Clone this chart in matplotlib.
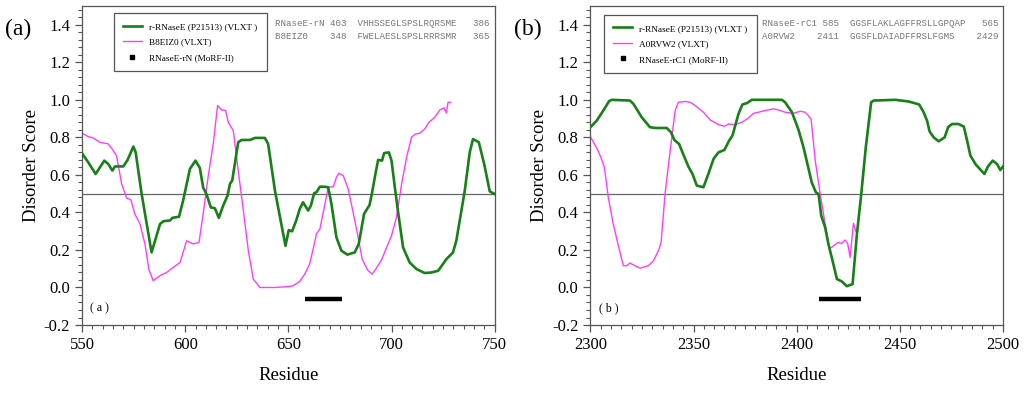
import matplotlib
matplotlib.use("Agg")
import matplotlib.pyplot as plt
from matplotlib.ticker import MultipleLocator

# Panel (a): residues 550-750
a_green_res = [550, 553, 556.6, 560.8, 562.7, 564.7, 566, 570, 572.1, 574.9, 576, 578.9, 583.7,
               587.8, 589.4, 592.6, 593.8, 597, 599, 602.3, 605, 607.1, 608.7, 610.3, 612.4,
               614.4, 616.3, 618.4, 620.5, 621.7, 622.8, 625.7, 627.3, 631.4, 633.8, 638.6,
               640.2, 643.5, 648.6, 650.2, 651.8, 653.9, 655.5, 657.1, 659.6, 660.9, 662.5,
               663.6, 665.3, 667.4, 669.3, 670.9, 673.3, 675.7, 678.6, 682.2, 684.1, 686.7,
               689.4, 690.6, 691.9, 693.5, 695.4, 696.4, 698.7, 700, 701.6, 703.2, 705.6,
               708.8, 712.1, 716.1, 719.3, 722.6, 726.6, 729.8, 731.4, 735.5, 737.9, 739.5,
               742.3, 744.9, 747.6, 750]
a_green_val = [0.715, 0.667, 0.605, 0.676, 0.658, 0.623, 0.645, 0.645, 0.68, 0.751, 0.72, 0.498,
               0.187, 0.338, 0.353, 0.357, 0.371, 0.377, 0.463, 0.632, 0.676, 0.637, 0.533,
               0.498, 0.427, 0.422, 0.371, 0.436, 0.489, 0.552, 0.57, 0.774, 0.786, 0.786,
               0.797, 0.797, 0.765, 0.516, 0.222, 0.306, 0.299, 0.36, 0.418, 0.454, 0.41,
               0.436, 0.502, 0.507, 0.537, 0.537, 0.534, 0.444, 0.267, 0.196, 0.175, 0.187,
               0.232, 0.392, 0.441, 0.507, 0.587, 0.68, 0.676, 0.716, 0.72, 0.676, 0.534,
               0.4, 0.213, 0.133, 0.098, 0.077, 0.08, 0.089, 0.151, 0.187, 0.249, 0.516,
               0.72, 0.791, 0.774, 0.658, 0.512, 0.498]

a_mag_res = [550, 553, 555.5, 558.6, 562.7, 564.3, 566.7, 569.2, 571.6, 573.7, 575.6, 578.1,
             580.5, 582.4, 584.5, 587.8, 591, 594.2, 597.5, 600.7, 603.9, 606.7, 608.7, 611.2,
             613.6, 615.7, 617.6, 619.6, 620.9, 623.3, 625.7, 628.2, 630.6, 633, 636.2, 643.5,
             650, 652.3, 655.5, 657.9, 660.3, 662, 663.6, 665.3, 667.4, 669.3, 671.8, 673.3,
             674.5, 676.6, 679, 681.4, 683.5, 685.8, 688.4, 690.6, 692.7, 695.1, 697.6, 700,
             702.4, 704.9, 707.3, 709.7, 711.6, 713.7, 716.1, 718.1, 721, 723.4, 725.5, 726.6,
             727.4, 728.6]
a_mag_val = [0.822, 0.804, 0.797, 0.774, 0.765, 0.743, 0.703, 0.552, 0.477, 0.467, 0.392, 0.338,
             0.232, 0.097, 0.036, 0.063, 0.08, 0.107, 0.133, 0.249, 0.232, 0.24, 0.392, 0.596,
             0.765, 0.97, 0.946, 0.943, 0.88, 0.836, 0.623, 0.41, 0.196, 0.045, 0.0, 0.0,
             0.005, 0.009, 0.032, 0.071, 0.124, 0.205, 0.285, 0.312, 0.427, 0.534, 0.537,
             0.587, 0.609, 0.596, 0.525, 0.4, 0.285, 0.151, 0.093, 0.071, 0.104, 0.146, 0.213,
             0.276, 0.374, 0.552, 0.694, 0.801, 0.818, 0.822, 0.845, 0.88, 0.907, 0.946,
             0.957, 0.93, 0.987, 0.987]

a_morf = [658, 676]

# Panel (b): residues 2300-2500
b_green_res = [2300, 2303.1, 2306.3, 2309.1, 2310.4, 2319.2, 2320.9, 2324.9, 2328.9, 2331.4,
               2337, 2339.1, 2340.7, 2343, 2345.1, 2347.5, 2349.5, 2351.6, 2354.8, 2357.2,
               2359.7, 2362.1, 2365, 2367.3, 2368.9, 2371.8, 2373.7, 2375.8, 2378.3, 2392.8,
               2394.4, 2397.7, 2400.9, 2403.3, 2405.4, 2407.3, 2409.3, 2410.6, 2411.9, 2413.8,
               2415.4, 2417.4, 2419.5, 2421.9, 2424.3, 2427.1, 2429.2, 2431.3, 2433.5, 2436.1,
               2437.3, 2447.8, 2454.3, 2459.4, 2461.5, 2463.2, 2464.4, 2466.4, 2468.8, 2471.7,
               2473.4, 2475.3, 2478.5, 2481, 2482.6, 2484.2, 2486.6, 2488.7, 2491, 2492.7,
               2495, 2497.1, 2498.7, 2500]
b_green_val = [0.854, 0.889, 0.943, 0.993, 1.0, 0.996, 0.978, 0.907, 0.854, 0.85, 0.85, 0.827,
               0.786, 0.765, 0.708, 0.645, 0.605, 0.543, 0.534, 0.605, 0.685, 0.72, 0.733,
               0.783, 0.81, 0.925, 0.975, 0.982, 1.0, 1.0, 0.987, 0.934, 0.84, 0.747, 0.649,
               0.56, 0.507, 0.498, 0.383, 0.32, 0.231, 0.142, 0.045, 0.032, 0.007, 0.018,
               0.285, 0.498, 0.747, 0.987, 0.996, 1.0, 0.991, 0.975, 0.934, 0.889, 0.832, 0.8,
               0.779, 0.8, 0.854, 0.871, 0.871, 0.857, 0.783, 0.703, 0.658, 0.632, 0.605,
               0.645, 0.676, 0.658, 0.626, 0.645]

b_mag_res = [2300, 2303.1, 2305.1, 2306.8, 2308.7, 2311.1, 2313.6, 2316, 2317.6, 2319.2, 2321.7,
             2324.1, 2328.1, 2330.6, 2333, 2334.3, 2336.2, 2338.7, 2341.1, 2342.7, 2345.9,
             2348.4, 2350.8, 2354.8, 2358.1, 2362.1, 2365, 2367, 2370.2, 2373.4, 2376.6,
             2379.1, 2381.5, 2384.7, 2388.8, 2391.2, 2394.4, 2398.5, 2401.7, 2404.1, 2405.7,
             2407, 2409, 2411.4, 2413.8, 2415.8, 2417.9, 2420, 2421.9, 2423.5, 2424.7, 2425.9,
             2427.5, 2428.7]
b_mag_val = [0.804, 0.743, 0.694, 0.641, 0.481, 0.338, 0.222, 0.116, 0.116, 0.13, 0.116, 0.103,
             0.116, 0.142, 0.196, 0.24, 0.498, 0.729, 0.943, 0.987, 0.991, 0.987, 0.97, 0.934,
             0.893, 0.868, 0.859, 0.871, 0.868, 0.88, 0.903, 0.928, 0.934, 0.943, 0.952,
             0.946, 0.934, 0.928, 0.939, 0.934, 0.916, 0.898, 0.676, 0.498, 0.338, 0.205,
             0.222, 0.24, 0.235, 0.253, 0.235, 0.16, 0.342, 0.299]

b_morf = [2411, 2431]

GREEN = "#178017"
MAGENTA = "#ff3cff"
SPINE = "#555555"

panels = [
    dict(tag="a", xlim=(550, 750), ticks=[550, 600, 650, 700, 750],
         g_res=a_green_res, g_val=a_green_val, m_res=a_mag_res, m_val=a_mag_val, morf=a_morf,
         labels=["r-RNaseE (P21513) (VLXT )", "B8EIZ0 (VLXT)", "RNaseE-rN (MoRF-II)"],
         seq=["RNaseE-rN 403  VHHSSEGLSPSLRQRSME   386",
              "B8EIZ0    348  FWELAESLSPSLRRRSMR   365"],
         left=0.0801, leg_x=0.077, leg_y=0.978, seq_x=0.467),
    dict(tag="b", xlim=(2300, 2500), ticks=[2300, 2350, 2400, 2450, 2500],
         g_res=b_green_res, g_val=b_green_val, m_res=b_mag_res, m_val=b_mag_val, morf=b_morf,
         labels=["r-RNaseE (P21513) (VLXT )", "A0RVW2 (VLXT)", "RNaseE-rC1 (MoRF-II)"],
         seq=["RNaseE-rC1 585  GGSFLAKLAGFFRSLLGPQAP   565",
              "A0RVW2    2411  GGSFLDAIADFFRSLFGMS    2429"],
         left=0.5765, leg_x=0.033, leg_y=0.972, seq_x=0.416),
]

plt.rcParams["font.family"] = ["Liberation Serif", "DejaVu Serif"]

fig = plt.figure(figsize=(10.24, 3.94), dpi=100)

for p in panels:
    ax = fig.add_axes([p["left"], 0.1751, 0.403, 0.8097])
    ax.plot(p["g_res"], p["g_val"], color=GREEN, lw=1.9, label=p["labels"][0], zorder=3)
    ax.plot(p["m_res"], p["m_val"], color=MAGENTA, lw=1.0, label=p["labels"][1], zorder=2)
    ax.plot(p["morf"], [-0.06, -0.06], color="black", lw=3.2, solid_capstyle="butt", zorder=3)
    ax.plot([], [], "ks", ms=2.5, label=p["labels"][2])
    ax.axhline(0.5, color="#666666", lw=0.9, zorder=1)

    ax.set_xlim(*p["xlim"])
    ax.set_ylim(-0.2, 1.5)
    ax.set_xticks(p["ticks"])
    ax.set_yticks([-0.2, 0.0, 0.2, 0.4, 0.6, 0.8, 1.0, 1.2, 1.4])
    ax.set_yticklabels(["-0.2", "0.0", "0.2", "0.4", "0.6", "0.8", "1.0", "1.2", "1.4"])
    ax.xaxis.set_minor_locator(MultipleLocator(5))
    ax.yaxis.set_minor_locator(MultipleLocator(0.04))
    ax.tick_params(which="both", direction="out", colors=SPINE, labelcolor="black",
                   labelsize=12, top=False, right=False)
    ax.tick_params(which="major", length=5, width=0.9)
    ax.tick_params(which="minor", length=3, width=0.8)
    for s in ax.spines.values():
        s.set_color(SPINE)
        s.set_linewidth(0.9)

    ax.set_xlabel("Residue", fontsize=13.5, labelpad=10)
    ax.set_ylabel("Disorder Score", fontsize=13.5, labelpad=3)

    leg = ax.legend(loc="upper left", bbox_to_anchor=(p["leg_x"], p["leg_y"]), fontsize=6.7,
                    frameon=True, fancybox=False, edgecolor=SPINE, framealpha=1,
                    borderpad=1.0, handlelength=2.0, handletextpad=0.8, labelspacing=0.75,
                    borderaxespad=0)
    leg.get_frame().set_linewidth(0.9)
    leg.set_zorder(4)

    for i, line in enumerate(p["seq"]):
        ax.text(p["seq_x"], 0.944 - 0.041 * i, line, transform=ax.transAxes, fontsize=6.6,
                family="Liberation Mono", color="#777777", va="center", zorder=5)

    ax.text(0.02, 0.053, "( %s )" % p["tag"], transform=ax.transAxes, fontsize=8.5, va="center")
    fig.text(p["left"] - 0.075, 1 - 29 / 394, "(%s)" % p["tag"], fontsize=17, va="center")

fig.savefig("out.png", dpi=100)
